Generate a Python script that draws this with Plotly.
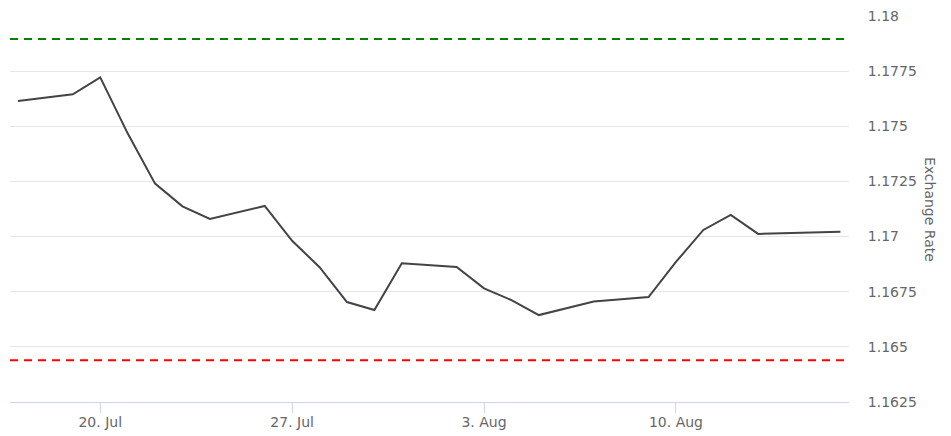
"""Exchange rate line chart with upper/lower dashed reference levels."""

import plotly.graph_objects as go

# Data
dates = [
    "2020-07-17", "2020-07-19", "2020-07-20", "2020-07-21", "2020-07-22",
    "2020-07-23", "2020-07-24", "2020-07-26", "2020-07-27", "2020-07-28",
    "2020-07-29", "2020-07-30", "2020-07-31", "2020-08-02", "2020-08-03",
    "2020-08-04", "2020-08-05", "2020-08-07", "2020-08-09", "2020-08-10",
    "2020-08-11", "2020-08-12", "2020-08-13", "2020-08-16",
]
rates = [
    1.17615, 1.17645, 1.17722, 1.17468, 1.17240,
    1.17137, 1.17080, 1.17139, 1.16981, 1.16861,
    1.16703, 1.16667, 1.16879, 1.16862, 1.16765,
    1.16712, 1.16644, 1.16706, 1.16726, 1.16885,
    1.17030, 1.17098, 1.17012, 1.17022,
]
upper_level = 1.17896
lower_level = 1.16439

x_tick_vals = ["2020-07-20", "2020-07-27", "2020-08-03", "2020-08-10"]
x_tick_text = ["20. Jul", "27. Jul", "3. Aug", "10. Aug"]
y_tick_vals = [1.1625, 1.165, 1.1675, 1.17, 1.1725, 1.175, 1.1775, 1.18]
y_tick_text = ["1.1625", "1.165", "1.1675", "1.17", "1.1725", "1.175", "1.1775", "1.18"]

x_range = ["2020-07-16 17:00", "2020-08-16 07:30"]

font_family = "DejaVu Sans, Verdana, sans-serif"

fig = go.Figure()

# Reference levels
fig.add_trace(
    go.Scatter(
        x=x_range,
        y=[upper_level, upper_level],
        mode="lines",
        line=dict(color="#008000", width=2, dash="8px,6px"),
        hoverinfo="skip",
        showlegend=False,
    )
)
fig.add_trace(
    go.Scatter(
        x=x_range,
        y=[lower_level, lower_level],
        mode="lines",
        line=dict(color="#ff0000", width=2, dash="8px,6px"),
        hoverinfo="skip",
        showlegend=False,
    )
)

# Rate series
fig.add_trace(
    go.Scatter(
        x=dates,
        y=rates,
        mode="lines",
        line=dict(color="#434348", width=2),
        name="Exchange Rate",
        showlegend=False,
    )
)

# the page body has an 8px margin, so the margins are shifted to compensate
fig.update_layout(
    width=951,
    height=436,
    margin=dict(l=2, r=110, t=8, b=42),
    paper_bgcolor="white",
    plot_bgcolor="white",
    font=dict(family=font_family, size=14, color="#666666"),
    showlegend=False,
    xaxis=dict(
        type="date",
        range=x_range,
        tickvals=x_tick_vals,
        ticktext=x_tick_text,
        showgrid=False,
        zeroline=False,
        showline=True,
        linecolor="#ccd6eb",
        linewidth=1,
        ticks="outside",
        ticklen=10,
        tickcolor="#ccd6eb",
        ticklabelstandoff=-3,
        tickfont=dict(size=14, color="#666666"),
        automargin=False,
    ),
    yaxis=dict(
        side="right",
        range=[1.1625, 1.18],
        tickvals=y_tick_vals,
        ticktext=y_tick_text,
        showgrid=True,
        gridcolor="#e6e6e6",
        gridwidth=1,
        zeroline=False,
        showline=False,
        # invisible ticks just to push the labels away from the plot
        ticks="outside",
        ticklen=15,
        tickcolor="rgba(0,0,0,0)",
        ticklabeloverflow="allow",
        tickfont=dict(size=14, color="#666666"),
        automargin=False,
    ),
    annotations=[
        dict(
            text="Exchange Rate",
            xref="paper",
            yref="paper",
            x=1.0966,
            y=0.5,
            xanchor="center",
            yanchor="middle",
            textangle=90,
            showarrow=False,
            font=dict(size=14, color="#666666"),
        )
    ],
)

fig.write_html("out.html", config={"displayModeBar": False})
